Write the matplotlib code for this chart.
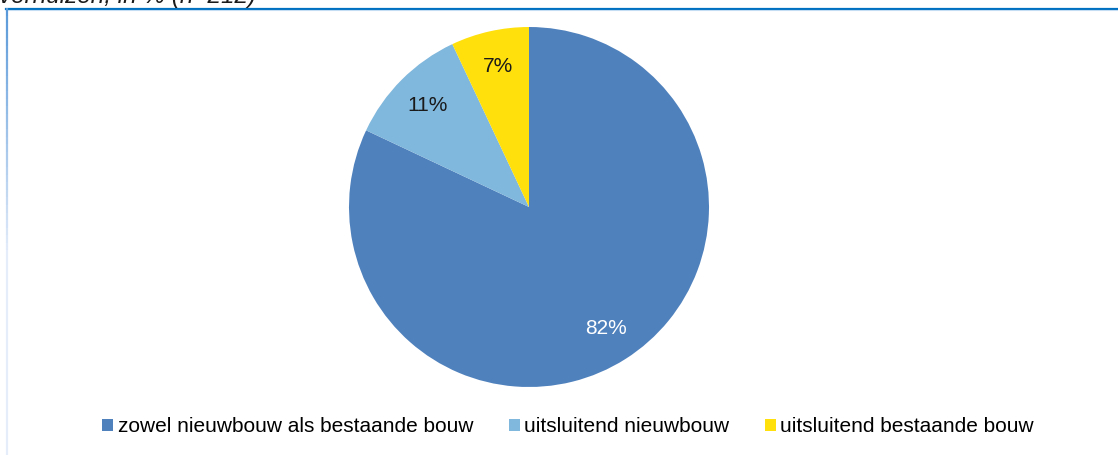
import matplotlib.pyplot as plt
import numpy as np
from matplotlib.patches import Patch
from matplotlib.collections import LineCollection

# data
labels = ['zowel nieuwbouw als bestaande bouw', 'uitsluitend nieuwbouw', 'uitsluitend bestaande bouw']
values = [82, 11, 7]
colors = ['#4F81BD', '#80B7DC', '#FFE00C']
pct_colors = ['white', '#1A1A1A', '#1A1A1A']
title = 'verhuizen, in % (n=212)'

plt.rcParams['font.family'] = ['Liberation Sans', 'DejaVu Sans']

W, H = 1118, 455
fig = plt.figure(figsize=(W / 100, H / 100), dpi=100)

# pie axes: centre (529, 207), radius 180 px
cx, cy, r = 529, 207, 180
ax = fig.add_axes([(cx - r) / W, (H - cy - r) / H, 2 * r / W, 2 * r / H])
wedges, texts, autotexts = ax.pie(values, colors=colors, startangle=90, counterclock=False,
                                  autopct='%1.0f%%', pctdistance=0.8, radius=1,
                                  textprops={'fontsize': 15})
for t, c in zip(autotexts, pct_colors):
    t.set_color(c)
ax.set_xlim(-1, 1)
ax.set_ylim(-1, 1)
ax.axis('off')

# clipped title text at the top
fig.text(-1 / W, 1 - 3 / H, title, fontsize=17.5, style='italic', color='#1A1A1A',
         ha='left', va='baseline')

# frame: top blue line and fading left line
fig.add_artist(plt.Line2D([6 / W, 1], [1 - 8.5 / H, 1 - 8.5 / H], color='#0070C0', lw=1.6))
fig.add_artist(plt.Line2D([7 / W, 1], [1 - 10 / H, 1 - 10 / H], color='#C5DDF2', lw=0.8))
ys = np.linspace(1 - 8 / H, 0, 60)
segs = [[(6.5 / W, ys[i]), (6.5 / W, ys[i + 1])] for i in range(len(ys) - 1)]
t = np.linspace(0, 1, len(segs))
c0 = np.array([0.35, 0.60, 0.85])
c1 = np.array([0.90, 0.93, 0.98])
seg_colors = [tuple(c0 + (c1 - c0) * min(1, tt * 1.8)) for tt in t]
fig.add_artist(LineCollection(segs, colors=seg_colors, linewidths=1.6, transform=fig.transFigure))

# legend
handles = [Patch(facecolor=c, edgecolor='none') for c in colors]
fig.legend(handles, labels, loc='center', bbox_to_anchor=(568 / W, 1 - 427 / H), ncol=3,
           frameon=False, fontsize=15, handlelength=0.55, handleheight=0.55,
           handletextpad=0.2, columnspacing=1.7, borderaxespad=0)

plt.savefig('out.png', dpi=100)
